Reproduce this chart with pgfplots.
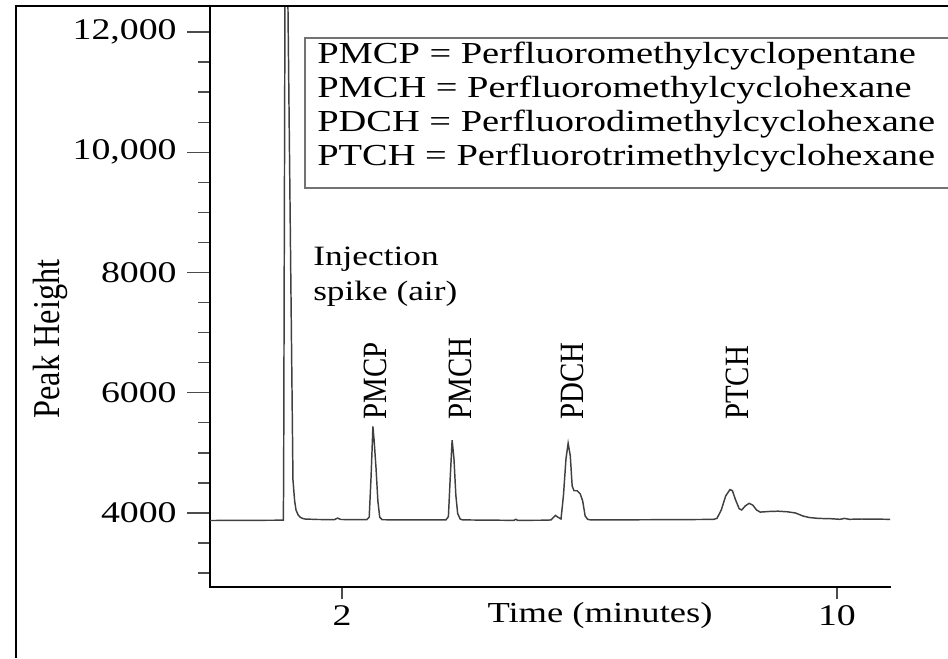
\documentclass[border=0pt]{standalone}
\usepackage{fontspec}
\setmainfont{Liberation Serif}
\newfontfamily\wide{Liberation Serif}[FakeStretch=1.26]
\newfontfamily\narrow{Liberation Serif}[FakeStretch=0.85]
\usepackage{pgfplots}
\usepackage{pgfplotstable}
\pgfplotsset{compat=1.18}

% chromatogram trace (time in minutes, peak height)
\pgfplotstableread{
t v
-0.133 3875
0.5 3878
1.0 3880
1.052 3880
1.057 4500
1.082 13800
1.110 13800
1.127 12416
1.170 8200
1.208 4549
1.235 4200
1.257 4050
1.290 3970
1.321 3933
1.360 3910
1.402 3900
1.600 3892
1.880 3890
1.930 3915
1.980 3892
2.400 3888
2.440 3930
2.470 4600
2.500 5440
2.520 5200
2.550 4750
2.580 4200
2.610 3930
2.650 3888
3.000 3885
3.400 3884
3.680 3885
3.720 3940
3.750 4600
3.780 5210
3.810 4900
3.840 4300
3.870 3990
3.910 3900
3.950 3885
4.500 3880
4.780 3878
4.810 3895
4.840 3878
5.300 3880
5.380 3885
5.420 3930
5.450 3960
5.490 3930
5.540 3900
5.580 4300
5.620 4900
5.655 5160
5.690 4950
5.720 4450
5.750 4370
5.800 4370
5.850 4320
5.890 4200
5.930 3950
5.970 3895
6.020 3885
7.000 3888
8.000 3893
8.060 3910
8.130 4050
8.200 4280
8.270 4390
8.310 4370
8.360 4220
8.420 4070
8.460 4050
8.520 4120
8.580 4160
8.640 4130
8.700 4050
8.760 4015
8.900 4025
9.050 4030
9.200 4020
9.330 4000
9.450 3950
9.550 3925
9.700 3910
9.900 3905
10.050 3895
10.120 3910
10.200 3895
10.400 3900
10.857 3895
}\chrom

\begin{document}
\begin{tikzpicture}[x=0.75pt,y=0.75pt]
\useasboundingbox (0,0) rectangle (948,658);
% outer frame
\draw[line width=2pt] (16,0) -- (16,652) -- (960,652);
\begin{axis}[
    at={(157.5pt,53.25pt)}, anchor=south west,
    scale only axis, width=510pt, height=435pt,
    xmin=-0.133, xmax=10.857,
    ymin=2769, ymax=12416,
    axis x line=bottom, axis y line=left,
    axis line style={-, line width=2.2pt, black, line cap=rect},
    tick align=outside,
    major tick length=17pt, minor tick length=9pt,
    tick style={black!70, line width=1pt},
    xtick style={/pgfplots/major tick length=9pt},
    xtick={2,10}, xticklabels={2,10},
    ytick={4000,6000,8000,10000,12000},
    yticklabels={4000,6000,8000,{10,000},{12,000}},
    scaled y ticks=false, scaled x ticks=false,
    minor ytick={3000,3500,4500,5000,5500,6500,7000,7500,8500,9000,9500,10500,11000,11500},
    ticklabel style={font=\wide\fontsize{22.5}{26}\selectfont},
    yticklabel style={xshift=-4.5pt},
    xticklabel style={yshift=6.5pt},
]
\addplot[black!75, line width=1.1pt] table[x=t, y=v] {\chrom};
\end{axis}

% legend box
\draw[black!55, line width=1.5pt, fill=white] (305,620) rectangle (975,470);
\begin{scope}[every node/.style={anchor=base west, inner sep=0pt, font=\wide\fontsize{22.9}{26}\selectfont}]
\node at (317,594) {PMCP = Perfluoromethylcyclopentane};
\node at (317,560) {PMCH = Perfluoromethylcyclohexane};
\node at (317,526) {PDCH = Perfluorodimethylcyclohexane};
\node at (317,492) {PTCH = Perfluorotrimethylcyclohexane};
\end{scope}

% annotations
\begin{scope}[every node/.style={anchor=base west, inner sep=0pt, font=\wide\fontsize{21}{24}\selectfont}]
\node at (313,393) {Injection};
\node at (313,358) {spike (air)};
\end{scope}
\begin{scope}[every node/.style={anchor=base west, inner sep=0pt, rotate=90, font=\narrow\fontsize{25.5}{28}\selectfont}]
\node at (386,238) {PMCP};
\node at (471,238) {PMCH};
\node at (583,238) {PDCH};
\node at (748,238) {PTCH};
\end{scope}

% axis titles
\node[rotate=90, inner sep=0pt, font=\narrow\fontsize{28.5}{30}\selectfont] at (50,319) {Peak Height};
\node[anchor=base, inner sep=0pt, font=\wide\fontsize{21.75}{24}\selectfont] at (600,36) {Time (minutes)};
\end{tikzpicture}
\end{document}
